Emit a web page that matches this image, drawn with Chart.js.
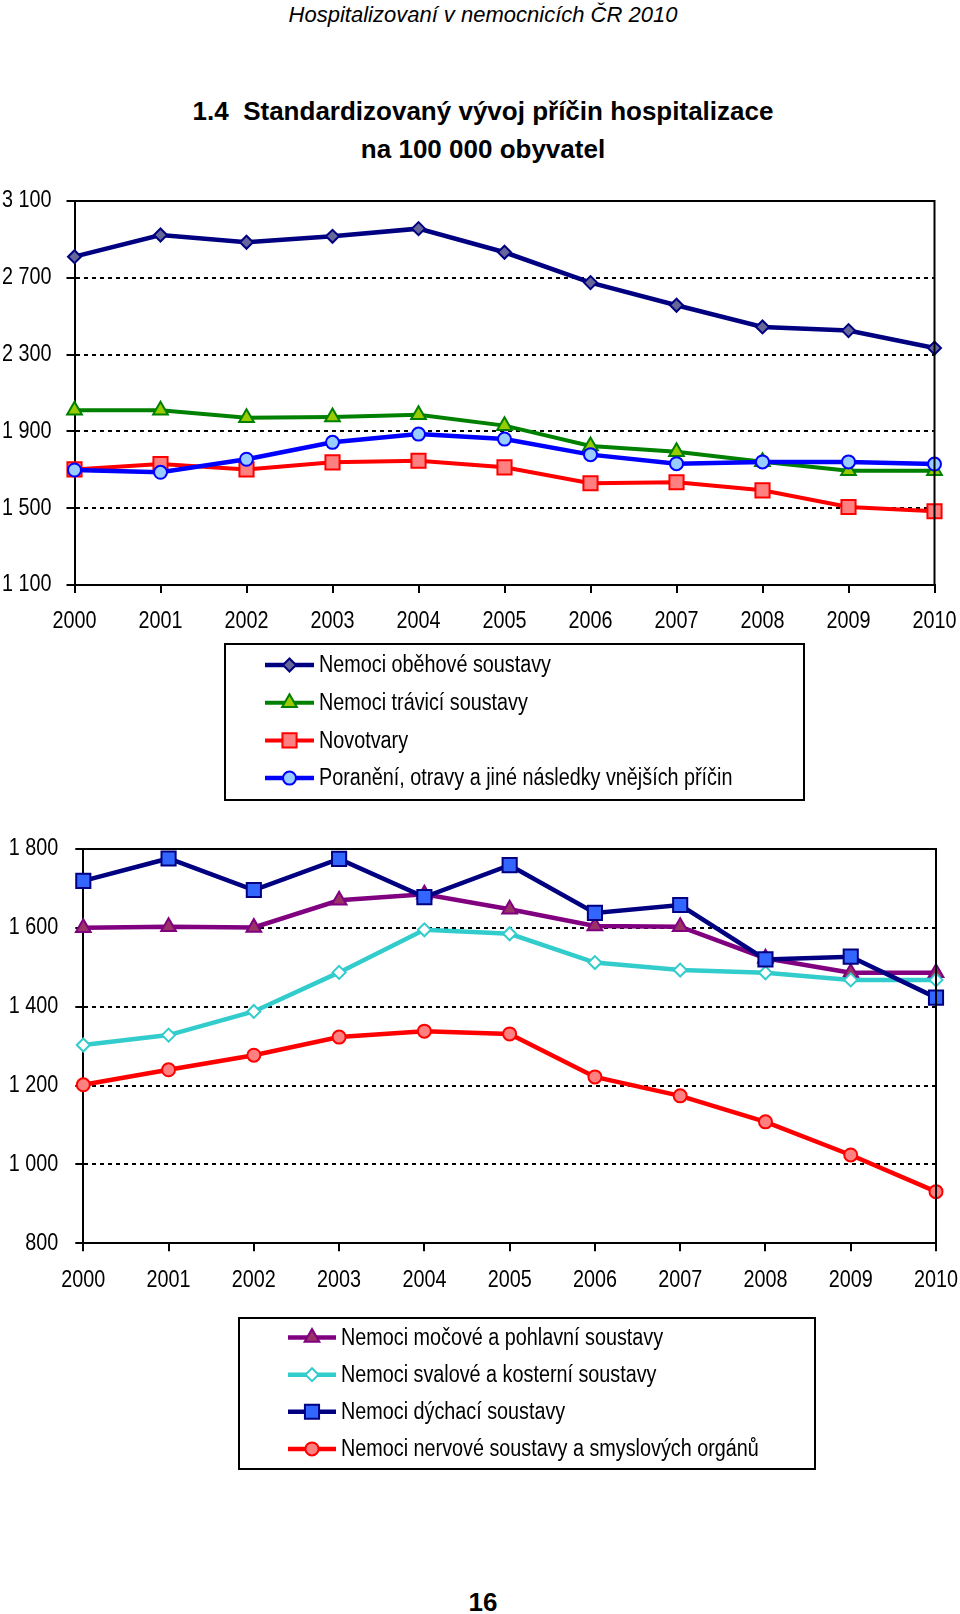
<!DOCTYPE html>
<html>
<head>
<meta charset="utf-8">
<script src="https://cdn.jsdelivr.net/npm/chart.js@4.4.0/dist/chart.umd.min.js"></script>
<style>
  html, body { margin: 0; padding: 0; background: #fff; }
  body { width: 960px; height: 1614px; position: relative; overflow: hidden; }
  .txt { position: absolute; left: 0; width: 966px; text-align: center; color: #000; font-family: "Liberation Sans", Arial, sans-serif; white-space: nowrap; }
  #hdr { top: 2px; font-size: 22px; line-height: 26px; font-style: italic; }
  #t1 { top: 95px; font-size: 26px; line-height: 32px; font-weight: bold; }
  #t2 { top: 133px; font-size: 26px; line-height: 32px; font-weight: bold; }
  #pg { top: 1586px; font-size: 26px; line-height: 32px; font-weight: bold; }
  #c1wrap { position: absolute; left: 0; top: 180px; width: 960px; height: 640px; }
  #c2wrap { position: absolute; left: 0; top: 820px; width: 960px; height: 680px; }
</style>
</head>
<body>
<div class="txt" id="hdr">Hospitalizovaní v nemocnicích ČR 2010</div>
<div class="txt" id="t1">1.4&nbsp; Standardizovaný vývoj příčin hospitalizace</div>
<div class="txt" id="t2">na 100 000 obyvatel</div>
<div class="txt" id="pg">16</div>
<div id="c1wrap"><canvas id="c1" width="960" height="640"></canvas></div>
<div id="c2wrap"><canvas id="c2" width="960" height="680"></canvas></div>
<script>
// ---------- data ----------
const years = ['2000','2001','2002','2003','2004','2005','2006','2007','2008','2009','2010'];

// chart 1
const obehove   = [2810, 2923, 2885, 2916, 2956, 2833, 2675, 2557, 2444, 2425, 2334];
const travici   = [2010, 2010, 1971, 1975, 1987, 1930, 1824, 1794, 1742, 1695, 1695];
const novotvary = [1702, 1730, 1702, 1739, 1747, 1713, 1630, 1635, 1593, 1506, 1484];
const poraneni  = [1699, 1687, 1755, 1843, 1886, 1860, 1779, 1732, 1741, 1741, 1730];
const ticks1 = [1100, 1500, 1900, 2300, 2700, 3100];

// chart 2
const mocove    = [1600, 1603, 1601, 1670, 1685, 1647, 1605, 1603, 1523, 1486, 1486];
const svalove   = [1303, 1328, 1388, 1487, 1595, 1585, 1512, 1493, 1486, 1468, 1468];
const dychaci   = [1719, 1776, 1696, 1775, 1678, 1759, 1638, 1658, 1520, 1527, 1423];
const nervove   = [1202, 1240, 1277, 1323, 1338, 1331, 1222, 1174, 1108, 1024, 931];
const ticks2 = [800, 1000, 1200, 1400, 1600, 1800];

const labels1 = ['Nemoci oběhové soustavy', 'Nemoci trávicí soustavy', 'Novotvary', 'Poranění, otravy a jiné následky vnějších příčin'];
const labels2 = ['Nemoci močové a pohlavní soustavy', 'Nemoci svalové a kosterní soustavy', 'Nemoci dýchací soustavy', 'Nemoci nervové soustavy a smyslových orgánů'];

// ---------- helpers ----------
const FONT = "'Liberation Sans', Arial, sans-serif";
const FSIZE = 23;
const fmt = v => String(v).replace(/\B(?=(\d{3})+(?!\d))/g, ' ');

// narrow (condensed) text rendering on a canvas: scale glyphs horizontally around their anchor
function condense(canvas, k) {
  const ctx = canvas.getContext('2d');
  const orig = ctx.fillText;
  ctx.fillText = function (t, x, y, maxW) {
    this.save();
    this.translate(x, y);
    this.scale(k, 1);
    if (maxW !== undefined) orig.call(this, t, 0, 0, maxW / k); else orig.call(this, t, 0, 0);
    this.restore();
  };
}

function ds(label, data, line, fill, style, radius, width, order) {
  return {
    label, data,
    borderColor: line, borderWidth: width,
    pointStyle: style, pointRadius: radius, pointHoverRadius: radius,
    pointBackgroundColor: fill, pointBorderColor: line, pointBorderWidth: 2,
    tension: 0, fill: false, order
  };
}

const frameAndLegend = {
  id: 'frameAndLegend',
  afterDraw(chart, args, opts) {
    const ctx = chart.ctx, a = chart.chartArea;
    ctx.save();
    ctx.strokeStyle = '#000';
    ctx.lineWidth = 2;
    ctx.beginPath();
    ctx.moveTo(a.left, a.top); ctx.lineTo(a.right, a.top); ctx.lineTo(a.right, a.bottom);
    ctx.stroke();
    // legend box
    const L = opts.box;
    ctx.strokeRect(L.x, L.y, L.w, L.h);
    ctx.font = FSIZE + 'px ' + FONT;
    ctx.textBaseline = 'middle';
    ctx.textAlign = 'left';
    chart.data.datasets.forEach((d, i) => {
      const y = L.rowY + i * L.rowStep;
      ctx.strokeStyle = d.borderColor;
      ctx.lineWidth = d.borderWidth;
      ctx.beginPath(); ctx.moveTo(L.lx1, y); ctx.lineTo(L.lx2, y); ctx.stroke();
      ctx.fillStyle = d.pointBackgroundColor;
      ctx.strokeStyle = d.pointBorderColor;
      ctx.lineWidth = d.pointBorderWidth;
      Chart.helpers.drawPoint(ctx, {pointStyle: d.pointStyle, radius: d.pointRadius, rotation: 0, borderWidth: d.pointBorderWidth}, (L.lx1 + L.lx2) / 2, y);
      ctx.fillStyle = '#000';
      ctx.fillText(d.label, L.tx, y + 1);
    });
    ctx.restore();
  }
};

function scales(min, max, step, yWidth, xHeight, yPad, xPad) {
  return {
    x: {
      type: 'category', offset: false,
      grid: { display: true, drawOnChartArea: false, drawTicks: true, tickLength: 8, color: '#000', lineWidth: 2 },
      border: { display: true, color: '#000', width: 2 },
      ticks: { color: '#000', font: { family: FONT, size: FSIZE, lineHeight: 1.2 }, padding: xPad, maxRotation: 0, autoSkip: false },
      afterFit(s) { s.height = xHeight; s.paddingLeft = 0; s.paddingRight = 0; }
    },
    y: {
      min, max,
      grid: { color: c => (c.tick && c.tick.value === max) ? 'rgba(0,0,0,0)' : '#000', tickColor: '#000', lineWidth: 2, tickLength: 8, drawTicks: true },
      border: { display: true, color: '#000', width: 2, dash: [4, 4] },
      ticks: { stepSize: step, color: '#000', font: { family: FONT, size: FSIZE }, padding: yPad, callback: v => fmt(v) },
      afterFit(s) { s.width = yWidth; s.paddingTop = 0; s.paddingBottom = 0; }
    }
  };
}

const common = {
  responsive: false, animation: false, devicePixelRatio: 1,
  plugins: { legend: { display: false }, tooltip: { enabled: false } },
};

const cv1 = document.getElementById('c1');
const cv2 = document.getElementById('c2');
condense(cv1, 0.86);
condense(cv2, 0.86);

new Chart(cv1, {
  type: 'line',
  data: {
    labels: years,
    datasets: [
      ds(labels1[0], obehove,   '#000080', '#666699', 'rectRot', 6.5, 4.5, 3),
      ds(labels1[1], travici,   '#008000', '#99CC00', 'triangle', 8.5, 4, 2),
      ds(labels1[2], novotvary, '#FF0000', '#FF8080', 'rect', 10, 4, 1),
      ds(labels1[3], poraneni,  '#0000FF', '#99CCFF', 'circle', 6.5, 4.5, 0)
    ]
  },
  options: Object.assign({}, common, {
    layout: { autoPadding: false, padding: { top: 21, right: 25.5, left: 0, bottom: 0 } },
    scales: scales(1100, 3100, 400, 74.5, 235, 15, 15),
    plugins: Object.assign({}, common.plugins, {
      frameAndLegend: { box: { x: 225, y: 464, w: 579, h: 156, rowY: 485, rowStep: 37.7, lx1: 265, lx2: 314, tx: 319 } }
    })
  }),
  plugins: [frameAndLegend]
});

new Chart(cv2, {
  type: 'line',
  data: {
    labels: years,
    datasets: [
      ds(labels2[0], mocove,  '#800080', '#993366', 'triangle', 8.5, 4.5, 3),
      ds(labels2[1], svalove, '#33CCCC', '#FFFFFF', 'rectRot', 6.5, 4.5, 2),
      ds(labels2[2], dychaci, '#000080', '#3366FF', 'rect', 10, 4.5, 1),
      ds(labels2[3], nervove, '#FF0000', '#FF8080', 'circle', 6.5, 4.5, 0)
    ]
  },
  options: Object.assign({}, common, {
    layout: { autoPadding: false, padding: { top: 29, right: 24, left: 0, bottom: 0 } },
    scales: scales(800, 1800, 200, 83.3, 256.7, 17, 16),
    plugins: Object.assign({}, common.plugins, {
      frameAndLegend: { box: { x: 239, y: 498, w: 576, h: 151, rowY: 517.6, rowStep: 37.1, lx1: 288, lx2: 336, tx: 341 } }
    })
  }),
  plugins: [frameAndLegend]
});
</script>
</body>
</html>
